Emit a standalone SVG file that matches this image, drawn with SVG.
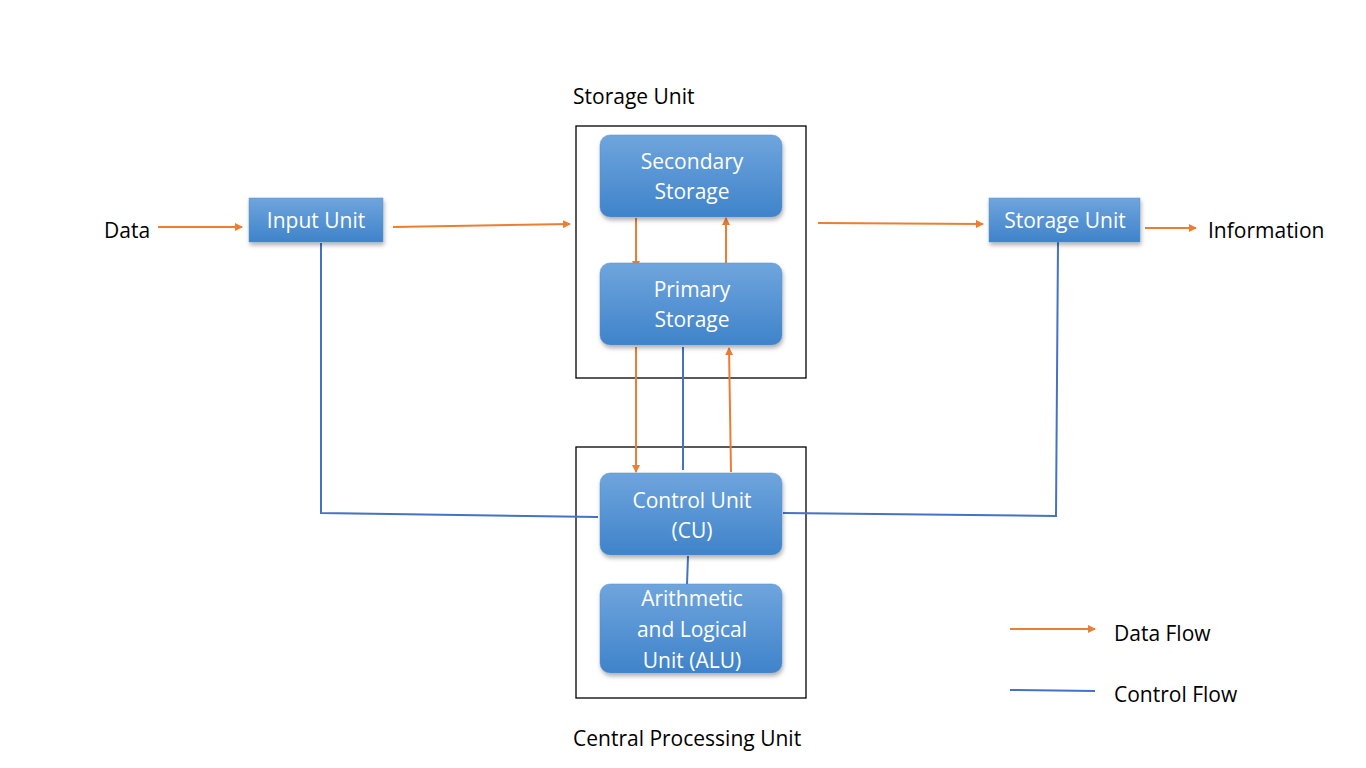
<svg xmlns="http://www.w3.org/2000/svg" width="1366" height="768" viewBox="0 0 1366 768">
<style>
text{font-family:"Open Sans","Liberation Sans",sans-serif;font-size:21px;fill:#000}
.n text{fill:#fff;text-anchor:middle}
.box{fill:url(#g);stroke:#5a8fc8;stroke-width:0.5;filter:url(#sh)}
.frame{fill:none;stroke:#000;stroke-width:1.3}
.d{stroke:#ED7D31;stroke-width:2;fill:none;marker-end:url(#a)}
.c{stroke:#4472C4;stroke-width:2;fill:none}
</style>
<defs>
<linearGradient id="g" x1="0" y1="0" x2="0" y2="1"><stop offset="0" stop-color="#6FA5DD"/><stop offset="1" stop-color="#3F83CA"/></linearGradient>
<filter id="sh" x="-10%" y="-10%" width="130%" height="140%"><feDropShadow dx="1" dy="3" stdDeviation="2" flood-color="#000" flood-opacity="0.3"/></filter>
<marker id="a" markerWidth="8" markerHeight="8" refX="7" refY="4" orient="auto" markerUnits="userSpaceOnUse"><path d="M0,0 L8,4 L0,8z" fill="#ED7D31"/></marker>
</defs>
<rect width="1366" height="768" fill="#fff"/>
<rect class="frame" x="576" y="126" width="230" height="252"/>
<rect class="frame" x="576" y="447" width="230" height="251"/>
<text x="573" y="104">Storage Unit</text>
<text x="573" y="746">Central Processing Unit</text>
<text x="104" y="238">Data</text>
<text x="1208" y="238">Information</text>
<g id="connectors">
<path class="d" d="M158,227 L242,227"/>
<path class="d" d="M393,227 L570,224"/>
<path class="d" d="M818,223 L983,224"/>
<path class="d" d="M1145,228 L1196,228"/>
<path class="d" d="M636,218 L636,268"/>
<path class="d" d="M726,263 L726,218"/>
<path class="d" d="M636,347 L636,472"/>
<path class="d" d="M731,472 L729,348"/>
<path class="c" d="M683,347 L683,470"/>
<path class="c" d="M321,243 L321,513 L598,517"/>
<path class="c" d="M783,513 L1056,516 L1058,242"/>
<path class="c" d="M688,556 L687,584"/>
<path class="d" d="M1010,629 L1095,629"/>
<path class="c" d="M1010,690 L1095,691"/>
</g>
<g id="input" class="n"><rect class="box" x="249" y="198" width="134" height="44"/><text x="316" y="228">Input Unit</text></g>
<g id="output" class="n"><rect class="box" x="989" y="198" width="151" height="44"/><text x="1065" y="228">Storage Unit</text></g>
<g id="secondary" class="n"><rect class="box" x="600" y="135" width="182" height="82" rx="10"/><text x="692" y="169">Secondary</text><text x="692" y="199">Storage</text></g>
<g id="primary" class="n"><rect class="box" x="600" y="263" width="182" height="82" rx="10"/><text x="692" y="297">Primary</text><text x="692" y="327">Storage</text></g>
<g id="cu" class="n"><rect class="box" x="600" y="473" width="182" height="82" rx="10"/><text x="692" y="508">Control Unit</text><text x="692" y="538">(CU)</text></g>
<g id="alu" class="n"><rect class="box" x="600" y="584" width="182" height="89" rx="10"/><text x="692" y="606">Arithmetic</text><text x="692" y="637">and Logical</text><text x="692" y="668">Unit (ALU)</text></g>
<text x="1114" y="641">Data Flow</text>
<text x="1114" y="702">Control Flow</text>
</svg>
